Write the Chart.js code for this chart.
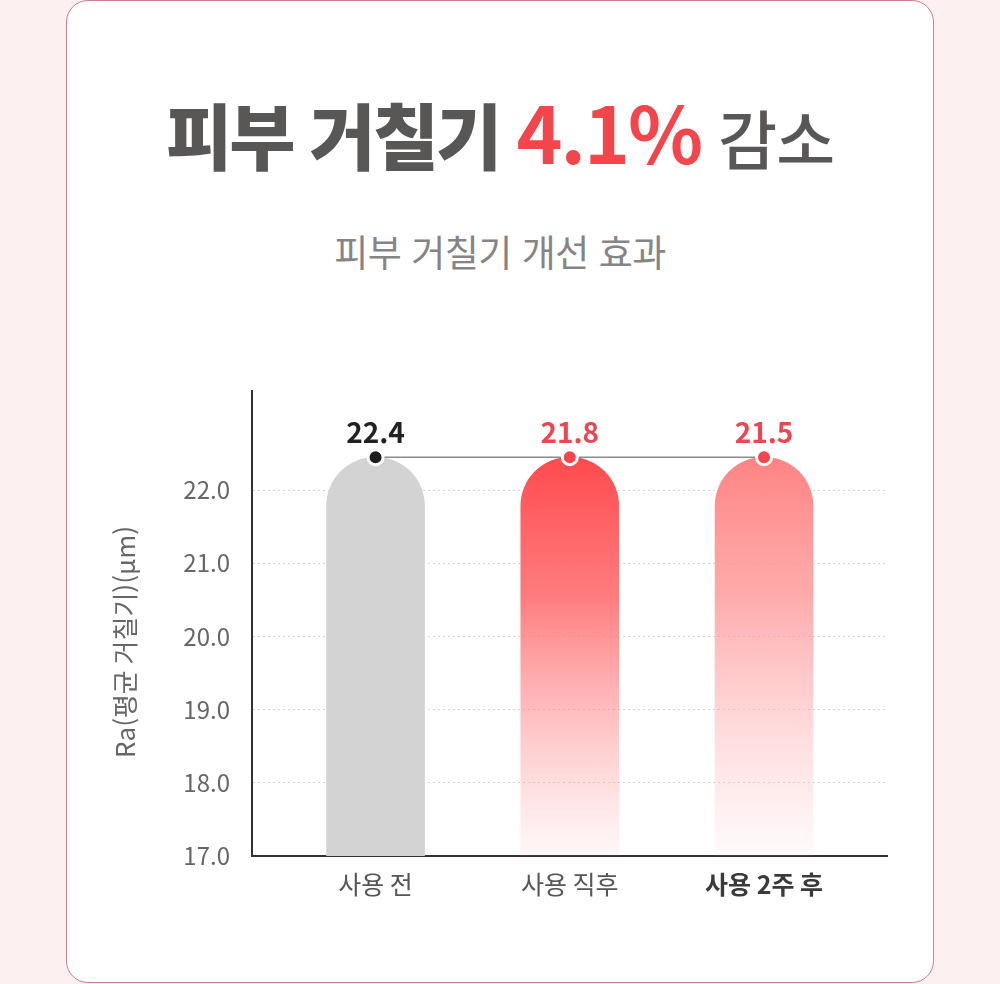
<!DOCTYPE html>
<html lang="ko">
<head>
<meta charset="utf-8">
<title>피부 거칠기 개선 효과</title>
<script src="https://cdn.jsdelivr.net/npm/chart.js@4/dist/chart.umd.min.js"></script>
<style>
    html, body {
        margin: 0;
        padding: 0;
        background: #fdf0f1;
        font-family: "Noto Sans CJK KR", "Noto Sans", sans-serif;
    }
    .card {
        position: absolute;
        left: 66px;
        top: 0;
        width: 866px;
        height: 981px;
        background: #fff;
        border: 1.5px solid #cf7d89;
        border-radius: 22px;
    }
    .headline {
        position: absolute;
        left: 0;
        width: 1000px;
        top: 80px;
        text-align: center;
        font-size: 72px;
        line-height: 100px;
        letter-spacing: -3px;
        color: #595656;
        font-weight: 900;
    }
    .headline .pct { color: #f2464c; font-weight: 700; font-size: 78px; letter-spacing: -2px; }
    .headline .tail { font-weight: 500; font-size: 64px; letter-spacing: -1px; }
    .subtitle {
        position: absolute;
        left: 0;
        width: 1000px;
        top: 226px;
        text-align: center;
        font-size: 37px;
        line-height: 50px;
        color: #858585;
        font-weight: 400;
        letter-spacing: -0.5px;
    }
    #chart-wrap {
        position: absolute;
        left: 80px;
        top: 355px;
        width: 840px;
        height: 565px;
    }
</style>
</head>
<body>
<div class="card"></div>
<div class="headline">피부 거칠기 <span class="pct">4.1%</span> <span class="tail">감소</span></div>
<div class="subtitle">피부 거칠기 개선 효과</div>
<div id="chart-wrap"><canvas id="raChart"></canvas></div>

<script>
// values read from the graphic
const categories = ['사용 전', '사용 직후', '사용 2주 후'];
const raValues = [22.4, 21.8, 21.5];          // printed labels (μm)
const barTops = [22.45, 22.45, 22.45];        // bar / point height as drawn in the graphic
const yTicks = [17, 18, 19, 20, 21, 22];

const labelColors = ['#222222', '#ec4750', '#ec4750'];
const dotColors = ['#1e1e1e', '#f2454c', '#f2454c'];

const FONT = '"Noto Sans CJK KR", "Noto Sans", sans-serif';

function barFill(ctx) {
    const chart = ctx.chart;
    const area = chart.chartArea;
    if (!area) return '#d3d3d3';
    const i = ctx.dataIndex;
    if (i === 0) return '#d3d3d3';
    const g = chart.ctx.createLinearGradient(0, area.top + 66, 0, area.bottom);
    if (i === 1) {
        g.addColorStop(0, 'rgba(255, 74, 78, 1)');
        g.addColorStop(0.35, 'rgba(255, 110, 112, 0.9)');
        g.addColorStop(1, 'rgba(255, 160, 165, 0.08)');
    } else {
        g.addColorStop(0, 'rgba(255, 125, 125, 0.95)');
        g.addColorStop(0.35, 'rgba(255, 150, 150, 0.8)');
        g.addColorStop(1, 'rgba(255, 190, 195, 0.08)');
    }
    return g;
}

// value labels above the dots
const valueLabels = {
    id: 'valueLabels',
    afterDatasetsDraw(chart) {
        const meta = chart.getDatasetMeta(1);
        const ctx = chart.ctx;
        ctx.save();
        ctx.font = `700 28px ${FONT}`;
        ctx.textAlign = 'center';
        ctx.textBaseline = 'middle';
        meta.data.forEach((pt, i) => {
            ctx.fillStyle = labelColors[i];
            ctx.fillText(raValues[i].toFixed(1), pt.x, pt.y - 25);
        });
        ctx.restore();
    }
};

document.addEventListener('DOMContentLoaded', () => {
    const ctx = document.getElementById('raChart').getContext('2d');

    new Chart(ctx, {
        data: {
            datasets: [
                {
                    type: 'bar',
                    order: 2,
                    data: categories.map((c, i) => ({ x: i, y: barTops[i] })),
                    backgroundColor: barFill,
                    barThickness: 98,
                    borderRadius: { topLeft: 49, topRight: 49, bottomLeft: 0, bottomRight: 0 },
                    borderSkipped: 'bottom'
                },
                {
                    type: 'line',
                    order: 1,
                    data: categories.map((c, i) => ({ x: i, y: barTops[i] })),
                    borderColor: '#8a8a8a',
                    borderWidth: 1.5,
                    pointRadius: 7.5,
                    pointBorderWidth: 3,
                    pointBorderColor: '#ffffff',
                    pointBackgroundColor: dotColors,
                    tension: 0
                }
            ]
        },
        options: {
            responsive: true,
            maintainAspectRatio: false,
            animation: false,
            layout: { padding: { top: 10, right: 33, left: 0, bottom: 0 } },
            plugins: {
                legend: { display: false },
                tooltip: { enabled: false }
            },
            scales: {
                x: {
                    type: 'linear',
                    offset: false,
                    min: -0.636,
                    max: 2.633,
                    afterBuildTicks: s => { s.ticks = categories.map((c, i) => ({ value: i })); },
                    afterFit: s => { s.height = 64; },
                    grid: { display: false, drawTicks: false },
                    border: { display: true, color: '#333333', width: 2 },
                    ticks: {
                        padding: 13,
                        color: ctx => ctx.index === 2 ? '#3a3a3a' : '#555555',
                        font: ctx => ({ family: FONT, size: 25, weight: ctx.index === 2 ? '700' : '400' }),
                        callback: v => categories[v]
                    }
                },
                y: {
                    min: 17,
                    max: 23.35,
                    afterBuildTicks: s => { s.ticks = yTicks.map(v => ({ value: v })); },
                    afterFit: s => { s.width = 172; },
                    grid: {
                        color: '#d4d4d4',
                        lineWidth: 1,
                        drawTicks: false
                    },
                    border: { display: true, color: '#333333', width: 2, dash: [2, 3] },
                    ticks: {
                        padding: 22,
                        color: '#666666',
                        font: { family: FONT, size: 24 },
                        callback: v => v.toFixed(1)
                    },
                    title: {
                        display: true,
                        // trailing spaces nudge the rotated title down to where the original sits
                        text: 'Ra(평균 거칠기)(μm)' + '\u00a0'.repeat(5),
                        color: '#666666',
                        font: { family: FONT, size: 26 },
                        padding: { top: 30, bottom: 0 }
                    }
                }
            }
        },
        plugins: [valueLabels]
    });
});
</script>
</body>
</html>
